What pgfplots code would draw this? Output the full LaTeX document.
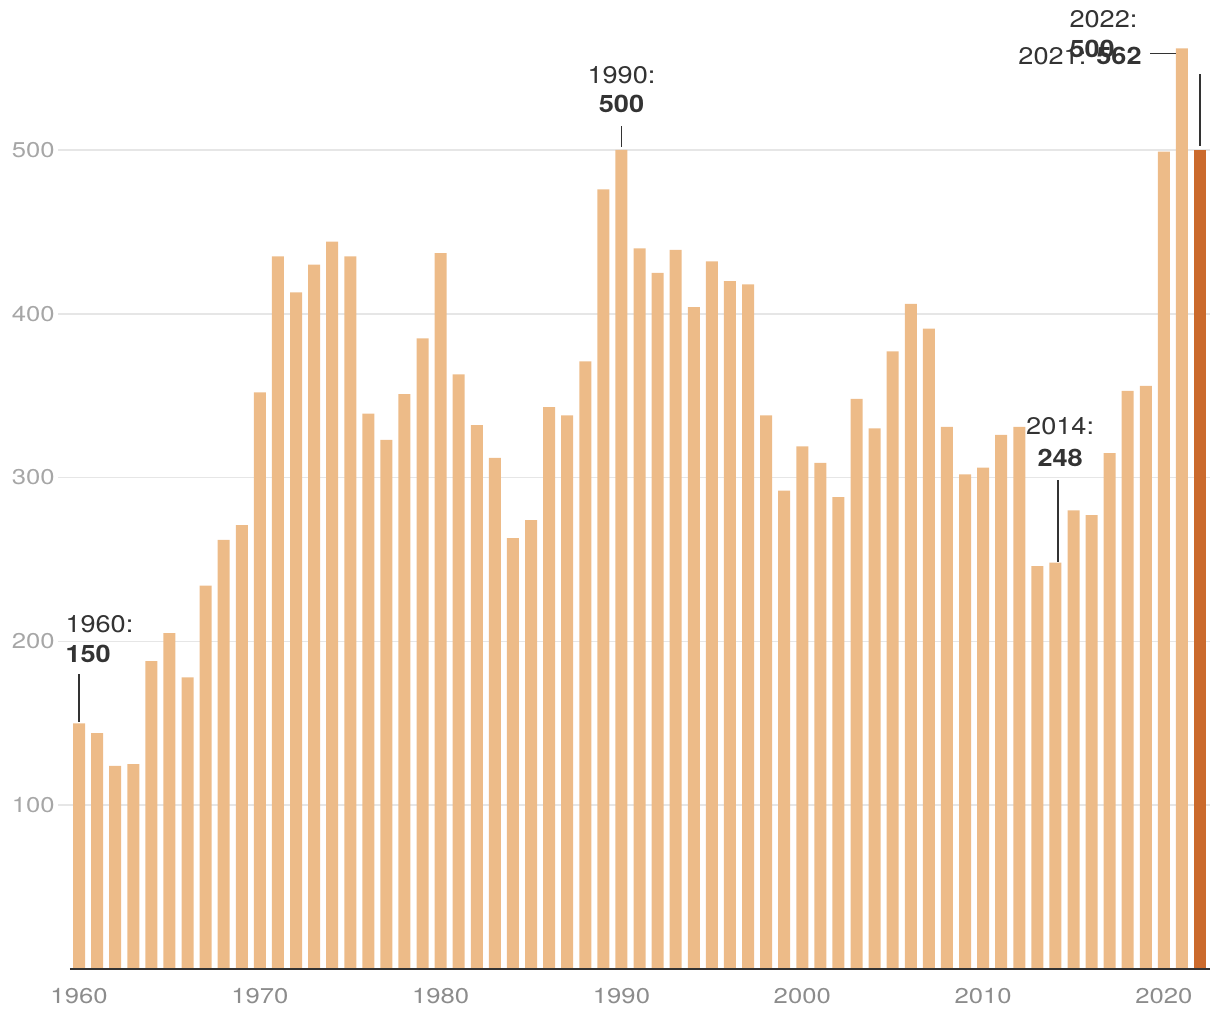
\documentclass[border=0pt]{standalone}
\usepackage{pgfplots}
\pgfplotsset{compat=1.18}
\usepackage{pgfplotstable}
\usepackage{fontspec}
\setmainfont{TeX Gyre Heros}[FakeStretch=1.2]
\newfontfamily\annfont{TeX Gyre Heros}[FakeStretch=1.13]
\definecolor{barlight}{HTML}{EDBB88}
\definecolor{bardark}{HTML}{CB6A2C}
\definecolor{txt}{HTML}{333333}
\definecolor{ytl}{HTML}{A6A6A6}
\definecolor{xtl}{HTML}{8C8C8C}
\definecolor{gridc}{HTML}{E6E6E6}
\pgfplotstableread{
year value
1960 150
1961 144
1962 124
1963 125
1964 188
1965 205
1966 178
1967 234
1968 262
1969 271
1970 352
1971 435
1972 413
1973 430
1974 444
1975 435
1976 339
1977 323
1978 351
1979 385
1980 437
1981 363
1982 332
1983 312
1984 263
1985 274
1986 343
1987 338
1988 371
1989 476
1990 500
1991 440
1992 425
1993 439
1994 404
1995 432
1996 420
1997 418
1998 338
1999 292
2000 319
2001 309
2002 288
2003 348
2004 330
2005 377
2006 406
2007 391
2008 331
2009 302
2010 306
2011 326
2012 331
2013 246
2014 248
2015 280
2016 277
2017 315
2018 353
2019 356
2020 499
2021 562
}\maindata
\pgfplotstableread{
year value
2022 500
}\lastdata
\begin{document}
\begin{tikzpicture}
\begin{axis}[
  scale only axis,
  width=570pt, height=483.2pt,
  xmin=1959.5, xmax=2022.55,
  ymin=0, ymax=590,
  clip=false,
  axis lines*=left,
  axis line style={draw=none},
  xtick={1960,1970,1980,1990,2000,2010,2020},
  ytick={100,200,300,400,500},
  xtick style={draw=none},
  ytick style={draw=gridc, line width=0.75pt},
  tick align=outside,
  major tick length=6pt,
  ymajorgrids,
  major grid style={draw=gridc, line width=0.75pt},
  /pgf/number format/1000 sep={},
  /pgf/number format/assume math mode=true,
  xticklabel style={font=\fontsize{10.7}{13}\selectfont, text=xtl},
  yticklabel style={font=\fontsize{10.7}{13}\selectfont, text=ytl, inner sep=0pt, xshift=-1.5pt},
  every node/.append style={inner sep=0pt},
]
\path (rel axis cs:-0.0614,-0.05277) rectangle (rel axis cs:1.00877,1.00267);
\addplot[ybar, bar width=6pt, bar shift=0pt, fill=barlight, draw=none] table[x=year,y=value] {\maindata};
\addplot[ybar, bar width=6pt, bar shift=0pt, fill=bardark, draw=none] table[x=year,y=value] {\lastdata};
\draw[txt, line width=1pt] (rel axis cs:0,0) -- (rel axis cs:1,0);
% annotations
\begin{scope}[every node/.style={inner sep=0pt, text=txt, font=\annfont\fontsize{12}{14}\selectfont}]
\node[anchor=base west] at (axis cs:1959.23,205.7) {1960:};
\node[anchor=base west] at (axis cs:1959.23,186.8) {\bfseries 150};
\draw[txt, line width=0.75pt] (axis cs:1960,151) -- (axis cs:1960,180);
\node[anchor=base] at (axis cs:1990,540.3) {1990:};
\node[anchor=base] at (axis cs:1990,522.6) {\bfseries 500};
\draw[txt, line width=0.75pt] (axis cs:1990,502) -- (axis cs:1990,514.6);
\node[anchor=base] at (axis cs:2014.26,326) {2014:};
\node[anchor=base] at (axis cs:2014.26,306.5) {\bfseries 248};
\draw[txt, line width=0.75pt] (axis cs:2014.15,248.5) -- (axis cs:2014.15,298.5);
\node[anchor=base west] at (axis cs:2014.76,574.5) {2022:};
\node[anchor=base west] at (axis cs:2014.76,556.2) {\bfseries 500};
\draw[txt, line width=0.75pt] (axis cs:2022,502.6) -- (axis cs:2022,546.4);
\node[anchor=base east] at (axis cs:2018.79,551.9) {2021: \bfseries 562};
\draw[txt, line width=0.75pt] (axis cs:2019.24,559) -- (axis cs:2020.68,559);
\end{scope}
\end{axis}
\end{tikzpicture}
\end{document}
